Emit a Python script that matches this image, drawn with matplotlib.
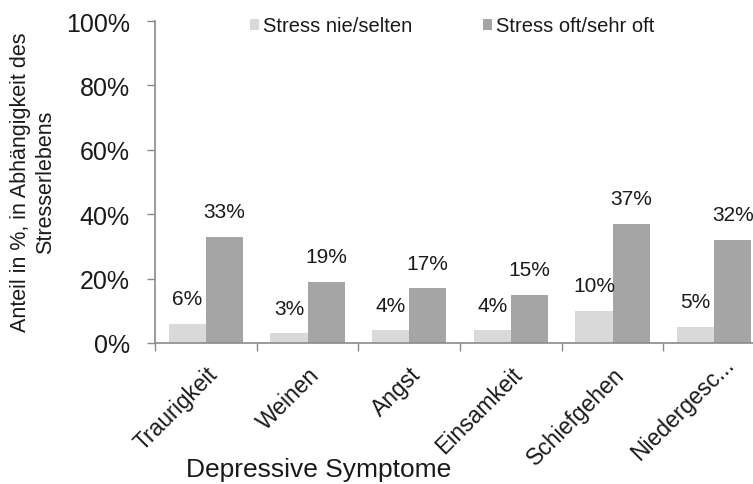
import matplotlib
matplotlib.use("Agg")
import matplotlib.pyplot as plt
import matplotlib.transforms as mtransforms
import numpy as np

plt.rcParams['font.family'] = ['Liberation Sans', 'DejaVu Sans']

# daten
symptome = ["Traurigkeit", "Weinen", "Angst", "Einsamkeit", "Schiefgehen", "Niedergesc..."]
stress_selten = [6, 3, 4, 4, 10, 5]
stress_oft = [33, 19, 17, 15, 37, 32]
serien = ["Stress nie/selten", "Stress oft/sehr oft"]
y_ticks = [0, 20, 40, 60, 80, 100]

hell = "#d9d9d9"
dunkel = "#a5a5a5"
achse = "#8a8a8a"
text_farbe = "#1a1a1a"

fig = plt.figure(figsize=(7.53, 4.85), dpi=100)
# achse reicht rechts etwas über das bild hinaus (wie im original)
ax = fig.add_axes([155 / 753, 141 / 485, 610 / 753, 322 / 485])

x = np.arange(len(symptome))
breite = 0.365
b1 = ax.bar(x - breite / 2, stress_selten, width=breite, color=hell, label=serien[0])
b2 = ax.bar(x + breite / 2, stress_oft, width=breite, color=dunkel, label=serien[1])

for bars, werte in [(b1, stress_selten), (b2, stress_oft)]:
    for rect, w in zip(bars, werte):
        ax.annotate(f"{w}%", (rect.get_x() + rect.get_width() / 2, w),
                    xytext=(0, 18), textcoords="offset points",
                    ha="center", va="center", fontsize=15, color=text_farbe)

ax.set_xlim(-0.5, len(symptome) - 0.5)
ax.set_ylim(0, 100)
ax.set_yticks(y_ticks)
ax.set_yticklabels([f"{v}%" for v in y_ticks], fontsize=18, color=text_farbe)
ax.tick_params(axis="y", length=6, width=1, color=achse, pad=12)

ax.set_xticks(x)
labels = ax.set_xticklabels(symptome, rotation=45, ha="right", va="top", rotation_mode="anchor",
                            fontsize=16.5, color=text_farbe)
ax.tick_params(axis="x", which="major", length=0, pad=14)
ax.set_xticks(np.arange(len(symptome) + 1) - 0.5, minor=True)
ax.tick_params(axis="x", which="minor", length=6, width=1, color=achse)

# abgekürztes label ragt im original mit den punkten über den anker hinaus
verschiebung = mtransforms.ScaledTranslation(0.08, 0.10, fig.dpi_scale_trans)
labels[-1].set_transform(labels[-1].get_transform() + verschiebung)

for s in ["top", "right"]:
    ax.spines[s].set_visible(False)
for s in ["left", "bottom"]:
    ax.spines[s].set_color(achse)
    ax.spines[s].set_linewidth(1.2)

fig.text(319 / 753, 1 - 477 / 485, "Depressive Symptome", ha="center", va="baseline",
         fontsize=19, color=text_farbe)
fig.text(33 / 753, 1 - 182 / 485, "Anteil in %, in Abhängigkeit des\nStresserlebens",
         ha="center", va="center", rotation=90, fontsize=15.5, linespacing=1.3,
         multialignment="center", color=text_farbe)

leg = fig.legend(handles=[b1, b2], loc="center left", bbox_to_anchor=(249.5 / 753, 1 - 27 / 485),
                 ncol=2, frameon=False, fontsize=14.5, handlelength=0.45, handleheight=0.45,
                 handletextpad=0.2, columnspacing=3.55, borderpad=0, borderaxespad=0)
for t in leg.get_texts():
    t.set_color(text_farbe)

fig.savefig("out.png", dpi=100)
